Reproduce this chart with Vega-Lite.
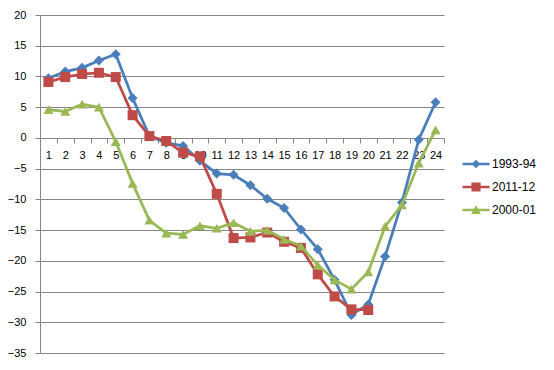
{
  "$schema": "https://vega.github.io/schema/vega-lite/v6.json",
  "width": 404,
  "height": 338,
  "autosize": {"type": "none"},
  "padding": {"left": 40, "top": 15, "right": 110, "bottom": 17},
  "background": "white",
  "config": {
    "view": {"stroke": null},
    "font": "Liberation Sans",
    "axis": {"labelFont": "Liberation Sans", "labelFontSize": 11, "labelColor": "#000000", "domainColor": "#868686", "tickColor": "#868686", "gridColor": "#868686", "gridOpacity": 1}
  },
  "data": {"values": [
    {"x": 1, "s": "1993-94", "v": 9.7}, {"x": 2, "s": "1993-94", "v": 10.8}, {"x": 3, "s": "1993-94", "v": 11.4}, {"x": 4, "s": "1993-94", "v": 12.6},
    {"x": 5, "s": "1993-94", "v": 13.6}, {"x": 6, "s": "1993-94", "v": 6.5}, {"x": 7, "s": "1993-94", "v": 0.3}, {"x": 8, "s": "1993-94", "v": -0.8},
    {"x": 9, "s": "1993-94", "v": -1.3}, {"x": 10, "s": "1993-94", "v": -3.7}, {"x": 11, "s": "1993-94", "v": -5.8}, {"x": 12, "s": "1993-94", "v": -6.0},
    {"x": 13, "s": "1993-94", "v": -7.7}, {"x": 14, "s": "1993-94", "v": -9.9}, {"x": 15, "s": "1993-94", "v": -11.4}, {"x": 16, "s": "1993-94", "v": -14.9},
    {"x": 17, "s": "1993-94", "v": -18.1}, {"x": 18, "s": "1993-94", "v": -23.1}, {"x": 19, "s": "1993-94", "v": -28.8}, {"x": 20, "s": "1993-94", "v": -27.1},
    {"x": 21, "s": "1993-94", "v": -19.3}, {"x": 22, "s": "1993-94", "v": -10.5}, {"x": 23, "s": "1993-94", "v": -0.3}, {"x": 24, "s": "1993-94", "v": 5.8},
    {"x": 1, "s": "2011-12", "v": 9.1}, {"x": 2, "s": "2011-12", "v": 9.9}, {"x": 3, "s": "2011-12", "v": 10.4}, {"x": 4, "s": "2011-12", "v": 10.6},
    {"x": 5, "s": "2011-12", "v": 9.9}, {"x": 6, "s": "2011-12", "v": 3.7}, {"x": 7, "s": "2011-12", "v": 0.3}, {"x": 8, "s": "2011-12", "v": -0.5},
    {"x": 9, "s": "2011-12", "v": -2.4}, {"x": 10, "s": "2011-12", "v": -3.0}, {"x": 11, "s": "2011-12", "v": -9.1}, {"x": 12, "s": "2011-12", "v": -16.3},
    {"x": 13, "s": "2011-12", "v": -16.2}, {"x": 14, "s": "2011-12", "v": -15.4}, {"x": 15, "s": "2011-12", "v": -16.9}, {"x": 16, "s": "2011-12", "v": -17.9},
    {"x": 17, "s": "2011-12", "v": -22.2}, {"x": 18, "s": "2011-12", "v": -25.8}, {"x": 19, "s": "2011-12", "v": -27.9}, {"x": 20, "s": "2011-12", "v": -28.0},
    {"x": 1, "s": "2000-01", "v": 4.6}, {"x": 2, "s": "2000-01", "v": 4.3}, {"x": 3, "s": "2000-01", "v": 5.5}, {"x": 4, "s": "2000-01", "v": 5.0},
    {"x": 5, "s": "2000-01", "v": -0.6}, {"x": 6, "s": "2000-01", "v": -7.4}, {"x": 7, "s": "2000-01", "v": -13.4}, {"x": 8, "s": "2000-01", "v": -15.5},
    {"x": 9, "s": "2000-01", "v": -15.7}, {"x": 10, "s": "2000-01", "v": -14.3}, {"x": 11, "s": "2000-01", "v": -14.7}, {"x": 12, "s": "2000-01", "v": -13.8},
    {"x": 13, "s": "2000-01", "v": -15.2}, {"x": 14, "s": "2000-01", "v": -15.0}, {"x": 15, "s": "2000-01", "v": -16.5}, {"x": 16, "s": "2000-01", "v": -17.6},
    {"x": 17, "s": "2000-01", "v": -20.7}, {"x": 18, "s": "2000-01", "v": -23.1}, {"x": 19, "s": "2000-01", "v": -24.6}, {"x": 20, "s": "2000-01", "v": -21.8},
    {"x": 21, "s": "2000-01", "v": -14.4}, {"x": 22, "s": "2000-01", "v": -10.9}, {"x": 23, "s": "2000-01", "v": -4.1}, {"x": 24, "s": "2000-01", "v": 1.3}
  ]},
  "encoding": {
    "x": {
      "field": "x", "type": "ordinal", "bandPosition": 0.5,
      "scale": {"type": "band", "paddingInner": 0, "paddingOuter": 0},
      "axis": {"title": null, "labelAngle": 0, "offset": -215, "tickBand": "extent", "tickSize": 5, "labelPadding": 6, "grid": false}
    },
    "y": {
      "field": "v", "type": "quantitative",
      "scale": {"domain": [-35, 20], "nice": false, "zero": false},
      "axis": {"title": null, "values": [-35, -30, -25, -20, -15, -10, -5, 0, 5, 10, 15, 20], "tickSize": 5, "labelPadding": 9, "grid": true}
    },
    "color": {
      "field": "s", "type": "nominal",
      "scale": {"domain": ["1993-94", "2011-12", "2000-01"], "range": ["#4A7EBB", "#BE4B48", "#98B954"]},
      "legend": {
        "title": null, "orient": "none", "legendX": 424, "legendY": 137,
        "symbolSize": 576, "symbolStrokeWidth": 0, "labelOffset": 4, "rowPadding": 5,
        "labelFont": "Liberation Sans", "labelFontSize": 12, "labelColor": "#000000",
        "encode": {"symbols": {"update": {
          "strokeWidth": {"value": 0},
          "fill": {"signal": "datum.value == '1993-94' ? '#4A7EBB' : datum.value == '2011-12' ? '#BE4B48' : '#98B954'"},
          "shape": {"signal": "datum.value == '1993-94' ? 'M-1.125,-0.1H1.125V0.1H-1.125Z M0,-0.36L0.36,0L0,0.36L-0.36,0Z' : datum.value == '2011-12' ? 'M-1.125,-0.1H1.125V0.1H-1.125Z M-0.38,-0.38H0.38V0.38H-0.38Z' : 'M-1.125,-0.1H1.125V0.1H-1.125Z M0,-0.4L0.4,0.33H-0.4Z'"}
        }}}
      }
    }
  },
  "layer": [
    {"transform": [{"filter": "datum.s == '1993-94'"}], "mark": {"type": "line", "strokeWidth": 2.75}, "encoding": {}},
    {"transform": [{"filter": "datum.s == '1993-94'"}], "mark": {"type": "point", "filled": true, "opacity": 1, "strokeWidth": 0, "shape": "diamond", "size": 100}, "encoding": {}},
    {"transform": [{"filter": "datum.s == '2011-12'"}], "mark": {"type": "line", "strokeWidth": 2.75}, "encoding": {}},
    {"transform": [{"filter": "datum.s == '2011-12'"}], "mark": {"type": "point", "filled": true, "opacity": 1, "strokeWidth": 0, "shape": "square", "size": 100}, "encoding": {}},
    {"transform": [{"filter": "datum.s == '2000-01'"}], "mark": {"type": "line", "strokeWidth": 2.75}, "encoding": {}},
    {"transform": [{"filter": "datum.s == '2000-01'"}], "mark": {"type": "point", "filled": true, "opacity": 1, "strokeWidth": 0, "shape": "triangle-up", "size": 100}, "encoding": {}}
  ]
}
